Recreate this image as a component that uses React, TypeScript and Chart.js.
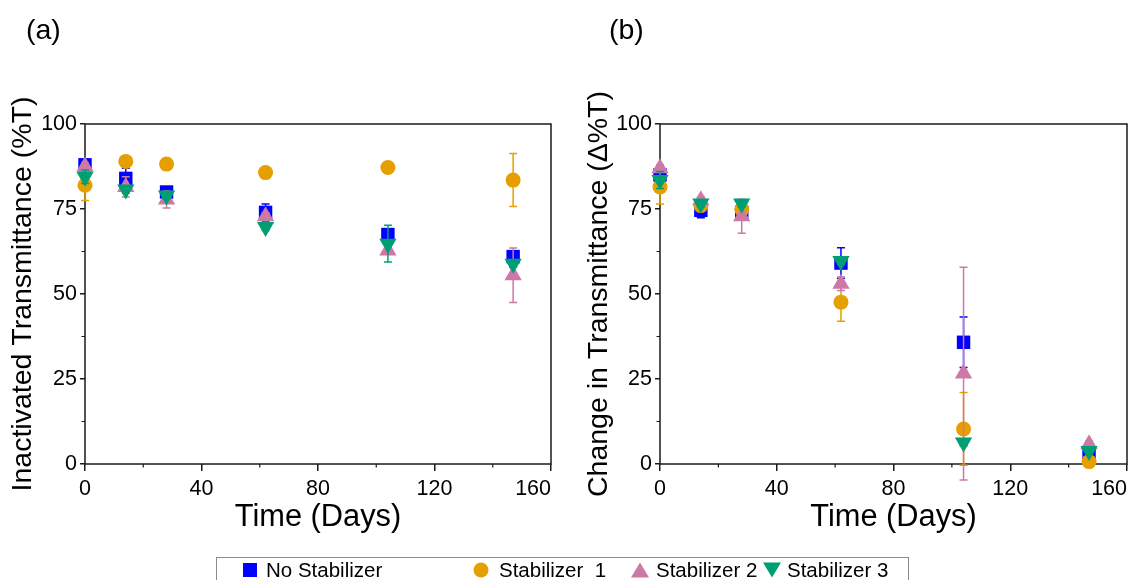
import React, { useEffect, useRef } from "react";
import { Chart, registerables } from "chart.js";

Chart.register(...registerables);

const FONT = "'Liberation Sans', Arial, sans-serif";

// Storage time points (days)
const DAYS = [0, 14, 28, 62, 104, 147];
const SERIES_NAMES = ["No Stabilizer", "Stabilizer  1", "Stabilizer 2", "Stabilizer 3"];
const COLORS = ["#0000FF", "#E69F00", "#CC79A7", "#009E73"];
const X_MAX = 160;
const X_TICKS_STEP = 40;
const Y_TICKS_STEP = 25;

// Panel (a): inactivated transmittance (%T)
const A_NO = [88, 84, 80, 74, 67.5, 61];
const A_NO_ERR = [1, 3, 1, 2.5, 1.5, 1];
const A_S1 = [82, 89, 88.2, 85.7, 87.2, 83.5];
const A_S1_ERR = [4.5, 1, 0.5, 1, 0.5, 7.8];
const A_S2 = [87.5, 81.5, 77.8, 72.9, 62.8, 55.5];
const A_S2_ERR = [1, 3, 2.5, 1, 1, 8];
const A_S3 = [84.5, 80.7, 79, 69.7, 64.8, 58.9];
const A_S3_ERR = [2, 1, 1, 1, 5.4, 1];

// Panel (b): change in transmittance (Δ%T)
const B_NO = [85, 74.6, 74, 59.1, 35.8, 3.2];
const B_NO_ERR = [1, 2.2, 1, 4.5, 7.4, 1];
const B_S1 = [81.5, 76, 74.9, 47.6, 10.3, 0.7];
const B_S1_ERR = [5, 1, 1, 5.6, 10.7, 1];
const B_S2 = [87, 77.6, 72.9, 53, 26.6, 5.8];
const B_S2_ERR = [1, 1, 5, 2, 31.3, 1];
const B_S3 = [83.5, 76.6, 76.6, 59.7, 6.3, 3.8];
const B_S3_ERR = [2.5, 1, 1, 1, 1, 1];

const MARKERS = [
  { pointStyle: "rect", radius: 9.5, rotation: 0 },
  { pointStyle: "circle", radius: 7.5, rotation: 0 },
  { pointStyle: "triangle", radius: 10, rotation: 0 },
  { pointStyle: "triangle", radius: 10, rotation: 180 },
];

const AXIS_COLOR = "#1a1a1a";

// Draws the box frame, minor ticks and error bars
const framePlugin = {
  id: "frameErr",
  beforeDatasetsDraw(chart: any) {
    const { ctx, chartArea: a, scales } = chart;
    ctx.save();
    ctx.strokeStyle = AXIS_COLOR;
    ctx.lineWidth = 1.5;
    ctx.strokeRect(a.left, a.top, a.right - a.left, a.bottom - a.top);
    ctx.lineWidth = 1.2;
    ctx.beginPath();
    for (let v = X_TICKS_STEP / 2; v < X_MAX; v += X_TICKS_STEP) {
      const x = scales.x.getPixelForValue(v);
      ctx.moveTo(x, a.bottom);
      ctx.lineTo(x, a.bottom + 3.5);
    }
    for (let v = Y_TICKS_STEP / 2; v < 100; v += Y_TICKS_STEP) {
      const y = scales.y.getPixelForValue(v);
      ctx.moveTo(a.left, y);
      ctx.lineTo(a.left - 3.5, y);
    }
    ctx.stroke();
    ctx.restore();
  },
  afterDatasetDraw(chart: any, args: any, opts: any) {
    const errs: number[] = opts.errors[args.index];
    const ds = chart.data.datasets[args.index];
    const { ctx, scales } = chart;
    ctx.save();
    ctx.strokeStyle = COLORS[args.index];
    ctx.lineWidth = 1.5;
    ds.data.forEach((p: any, i: number) => {
      const e = errs[i];
      const x = scales.x.getPixelForValue(p.x);
      const yTop = scales.y.getPixelForValue(p.y + e);
      const yBot = scales.y.getPixelForValue(p.y - e);
      ctx.beginPath();
      ctx.moveTo(x, yTop);
      ctx.lineTo(x, yBot);
      ctx.moveTo(x - 4, yTop);
      ctx.lineTo(x + 4, yTop);
      ctx.moveTo(x - 4, yBot);
      ctx.lineTo(x + 4, yBot);
      ctx.stroke();
    });
    ctx.restore();
  },
};

type PanelProps = {
  left: number;
  width: number;
  yWidth: number;
  rightPad: number;
  yTitle: string;
  yTitlePad: number;
  values: number[][];
  errors: number[][];
};

function Panel({ left, width, yWidth, rightPad, yTitle, yTitlePad, values, errors }: PanelProps) {
  const ref = useRef<HTMLCanvasElement | null>(null);

  useEffect(() => {
    if (!ref.current) return;
    const datasets = values.map((vals, s) => ({
      label: SERIES_NAMES[s],
      data: DAYS.map((d, i) => ({ x: d, y: vals[i] })),
      showLine: false,
      pointStyle: MARKERS[s].pointStyle,
      pointRadius: MARKERS[s].radius,
      pointRotation: MARKERS[s].rotation,
      backgroundColor: COLORS[s],
      borderColor: COLORS[s],
      borderWidth: 0,
      clip: false as any,
      order: 3 - s,
    }));
    const chart = new Chart(ref.current, {
      type: "scatter",
      data: { datasets },
      plugins: [framePlugin],
      options: {
        animation: false,
        responsive: false,
        maintainAspectRatio: false,
        events: [],
        layout: {
          autoPadding: false,
          padding: { top: 124, right: rightPad, bottom: 36, left: 0 },
        } as any,
        plugins: {
          legend: { display: false },
          tooltip: { enabled: false },
          frameErr: { errors },
        } as any,
        scales: {
          x: {
            type: "linear",
            min: 0,
            max: X_MAX,
            afterFit: (s: any) => {
              s.height = 80;
              s.paddingLeft = 0;
              s.paddingRight = 0;
            },
            ticks: {
              stepSize: X_TICKS_STEP,
              autoSkip: false,
              maxRotation: 0,
              padding: 5,
              color: "#000",
              font: { family: FONT, size: 21.5 },
              // the last label ends at its tick, inside the panel
              callback: (v: any) => (v === X_MAX ? `${v}      ` : `${v}`),
            },
            grid: {
              drawOnChartArea: false,
              drawTicks: true,
              tickLength: 7,
              color: AXIS_COLOR,
              lineWidth: 1.5,
            },
            border: { display: false },
            title: {
              display: true,
              text: "Time (Days)",
              color: "#000",
              font: { family: FONT, size: 30.8 },
              padding: { top: 0, bottom: 8 },
            },
          },
          y: {
            type: "linear",
            min: 0,
            max: 100,
            afterFit: (s: any) => {
              s.width = yWidth;
              s.paddingTop = 0;
              s.paddingBottom = 0;
            },
            ticks: {
              stepSize: Y_TICKS_STEP,
              padding: 3,
              color: "#000",
              font: { family: FONT, size: 21.5 },
            },
            grid: {
              drawOnChartArea: false,
              drawTicks: true,
              tickLength: 5,
              color: AXIS_COLOR,
              lineWidth: 1.5,
            },
            border: { display: false },
            title: {
              display: true,
              text: yTitle,
              color: "#000",
              font: { family: FONT, size: 28.5 },
              padding: { top: yTitlePad, bottom: 0 },
            },
          },
        },
      },
    });
    return () => chart.destroy();
  }, []);

  return (
    <canvas
      ref={ref}
      width={width}
      height={580}
      style={{ position: "absolute", left, top: 0, width, height: 580 }}
    />
  );
}

function LegendIcon({ index }: { index: number }) {
  const c = COLORS[index];
  if (index === 0) return <div style={{ width: 14, height: 14, background: c }} />;
  if (index === 1) return <div style={{ width: 15, height: 15, background: c, borderRadius: "50%" }} />;
  if (index === 2)
    return (
      <div
        style={{
          width: 0,
          height: 0,
          borderLeft: "9px solid transparent",
          borderRight: "9px solid transparent",
          borderBottom: `15px solid ${c}`,
        }}
      />
    );
  return (
    <div
      style={{
        width: 0,
        height: 0,
        borderLeft: "9px solid transparent",
        borderRight: "9px solid transparent",
        borderTop: `15px solid ${c}`,
      }}
    />
  );
}

const LEGEND_ICON_X = [250, 481, 640, 772];
const LEGEND_TEXT_X = [266, 499, 656, 787];

export default function App() {
  return (
    <div
      style={{
        position: "fixed",
        left: 0,
        top: 0,
        width: 1131,
        height: 580,
        overflow: "hidden",
        background: "#fff",
        fontFamily: FONT,
      }}
    >
      <Panel
        left={0}
        width={566}
        yWidth={85}
        rightPad={15}
        yTitle="Inactivated Transmittance (%T)"
        yTitlePad={6}
        values={[A_NO, A_S1, A_S2, A_S3]}
        errors={[A_NO_ERR, A_S1_ERR, A_S2_ERR, A_S3_ERR]}
      />
      <Panel
        left={566}
        width={565}
        yWidth={94}
        rightPad={4}
        yTitle="Change in Transmittance (Δ%T)"
        yTitlePad={16}
        values={[B_NO, B_S1, B_S2, B_S3]}
        errors={[B_NO_ERR, B_S1_ERR, B_S2_ERR, B_S3_ERR]}
      />
      <div style={{ position: "absolute", left: 26, top: 13, fontSize: 28.5, color: "#000" }}>(a)</div>
      <div style={{ position: "absolute", left: 609, top: 13, fontSize: 28.5, color: "#000" }}>(b)</div>
      <div
        style={{
          position: "absolute",
          left: 216,
          top: 557,
          width: 693,
          height: 40,
          border: "1px solid #8a8a8a",
          boxSizing: "border-box",
        }}
      />
      {SERIES_NAMES.map((name, i) => (
        <React.Fragment key={name}>
          <div
            style={{
              position: "absolute",
              left: LEGEND_ICON_X[i],
              top: 570,
              transform: "translate(-50%, -50%)",
            }}
          >
            <LegendIcon index={i} />
          </div>
          <div
            style={{
              position: "absolute",
              left: LEGEND_TEXT_X[i],
              top: 558,
              fontSize: 20.5,
              lineHeight: "24px",
              whiteSpace: "pre",
              color: "#000",
            }}
          >
            {name}
          </div>
        </React.Fragment>
      ))}
    </div>
  );
}
